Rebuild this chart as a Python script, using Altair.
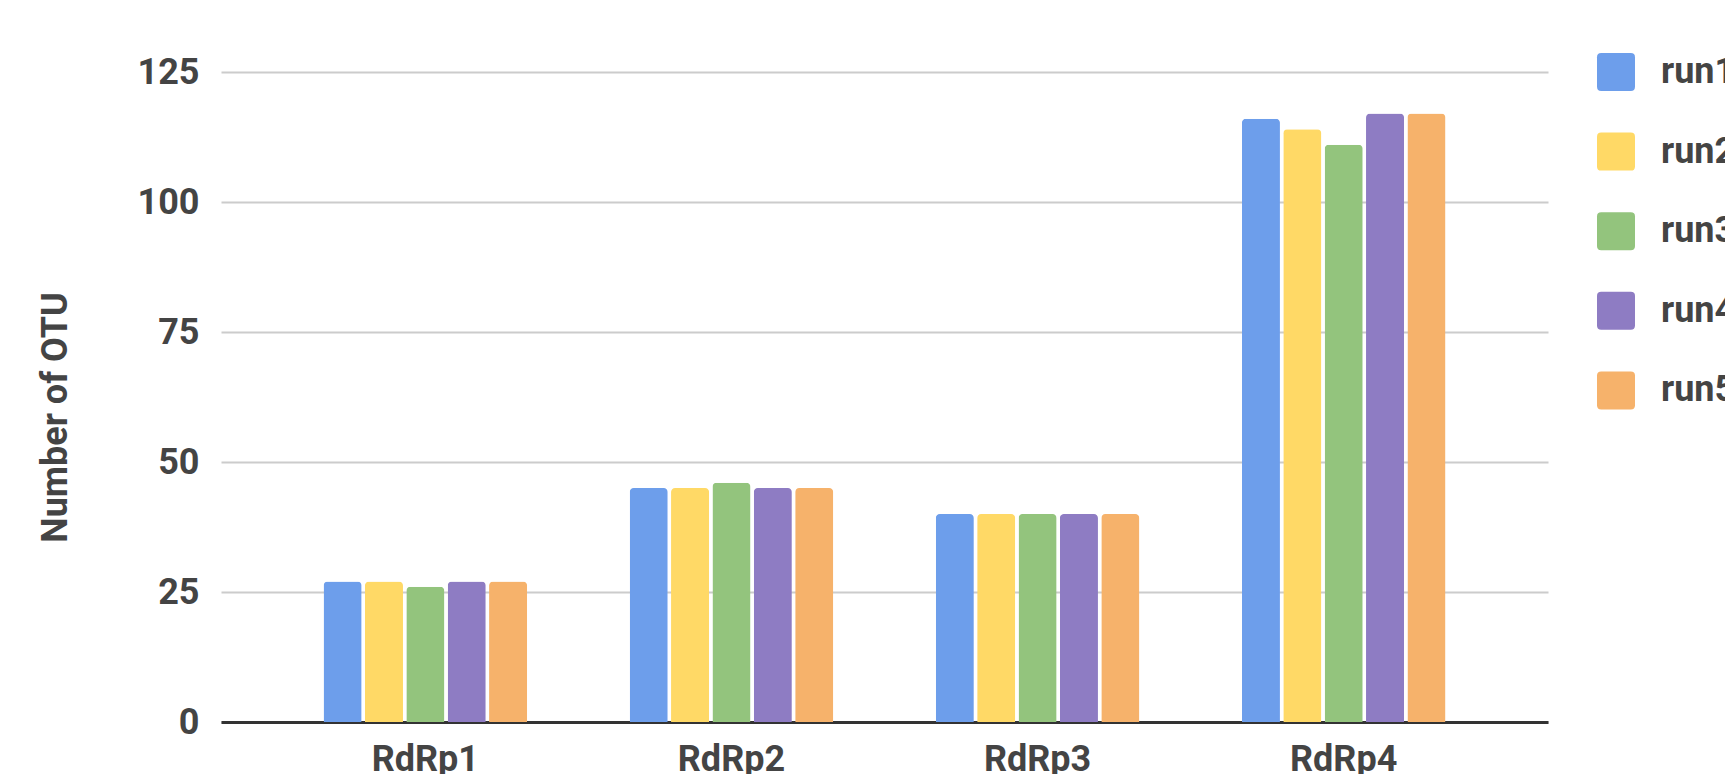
import altair as alt
import pandas as pd

categories = ["RdRp1", "RdRp2", "RdRp3", "RdRp4"]
runs = ["run1", "run2", "run3", "run4", "run5"]
run1 = [27, 45, 40, 116]
run2 = [27, 45, 40, 114]
run3 = [26, 46, 40, 111]
run4 = [27, 45, 40, 117]
run5 = [27, 45, 40, 117]
colors = ["#6d9eeb", "#ffd966", "#93c47d", "#8e7cc3", "#f6b26b"]
y_ticks = [0, 25, 50, 75, 100, 125]

series = {"run1": run1, "run2": run2, "run3": run3, "run4": run4, "run5": run5}
rows = []
for r in runs:
    for c, v in zip(categories, series[r]):
        rows.append({"category": c, "run": r, "value": v})
df = pd.DataFrame(rows)

FONT = "Roboto"
TXT = "#444444"
rounded = ("M-0.78,-1 L0.78,-1 Q1,-1 1,-0.78 L1,0.78 Q1,1 0.78,1 "
           "L-0.78,1 Q-1,1 -1,0.78 L-1,-0.78 Q-1,-1 -0.78,-1 Z")

chart = alt.Chart(df).mark_bar(
    cornerRadiusTopLeft=4, cornerRadiusTopRight=4
).encode(
    x=alt.X("category:N", sort=categories,
            scale=alt.Scale(paddingInner=0.335, paddingOuter=0.335),
            axis=alt.Axis(title=None, labelAngle=0, labelFont=FONT,
                          labelFontSize=36, labelFontWeight="bold",
                          labelColor=TXT, labelPadding=20, ticks=False,
                          domainColor="#333333", domainWidth=3, grid=False)),
    xOffset=alt.XOffset("run:N", sort=runs,
                        scale=alt.Scale(paddingInner=0.08, paddingOuter=0)),
    y=alt.Y("value:Q", scale=alt.Scale(domain=[0, 125], nice=False),
            axis=alt.Axis(title="Number of OTU", values=y_ticks,
                          labelFont=FONT, labelFontSize=36,
                          labelFontWeight="bold", labelColor=TXT,
                          labelPadding=22, ticks=False, domain=False,
                          gridColor="#cccccc", gridWidth=2,
                          titleFont=FONT, titleFontSize=36,
                          titleFontWeight="bold", titleColor=TXT,
                          titleAngle=270, titleX=-166, titleY=345,
                          titleAlign="center", titleBaseline="middle")),
    color=alt.Color("run:N", sort=runs,
                    scale=alt.Scale(domain=runs, range=colors),
                    legend=alt.Legend(title=None, orient="none",
                                      legendX=1376, legendY=-19,
                                      symbolType=rounded, symbolSize=1444,
                                      symbolStrokeWidth=0, symbolOpacity=1,
                                      labelFont=FONT, labelFontSize=36,
                                      labelFontWeight="bold", labelColor=TXT,
                                      labelOffset=26, rowPadding=41.6,
                                      padding=0)),
).properties(
    width=1327, height=650,
    background="white",
    autosize=alt.AutoSizeParams(type="none"),
    padding={"left": 213, "top": 64, "right": 177, "bottom": 52},
).configure_view(stroke=None)

chart.save("out.html", embed_options={"renderer": "svg", "actions": False})
